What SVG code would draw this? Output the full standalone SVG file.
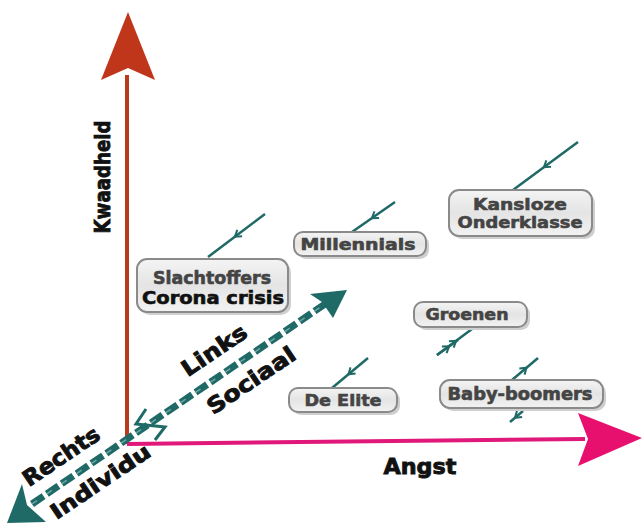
<svg xmlns="http://www.w3.org/2000/svg" width="643" height="526" viewBox="0 0 643 526">
<defs>
<linearGradient id="boxg" x1="0" y1="0" x2="0" y2="1">
<stop offset="0" stop-color="#f4f4f4"/>
<stop offset="0.5" stop-color="#e4e4e4"/>
<stop offset="1" stop-color="#f2f2f2"/>
</linearGradient>
<marker id="chev" viewBox="0 0 10 10" refX="5" refY="5" markerWidth="10" markerHeight="10" markerUnits="userSpaceOnUse" orient="auto">
<path d="M1,1 L7,5 L1,9" fill="none" stroke="#1f6a66" stroke-width="2"/>
</marker>
</defs>
<style>
.box{fill:url(#boxg);stroke:#8a8a8a;stroke-width:2}
.shadow{fill:#cfcfcf}
.lbl{font-family:"DejaVu Sans","Liberation Sans",sans-serif;font-weight:bold;font-size:16px;fill:#444;stroke:#444;stroke-width:0.6;text-anchor:middle}
.big{font-family:"DejaVu Sans","Liberation Sans",sans-serif;font-weight:bold;font-size:22px;fill:#111;stroke:#111;stroke-width:0.9;text-anchor:middle}
.conn{fill:none;stroke:#1f6a66;stroke-width:2.5;marker-mid:url(#chev)}
</style>
<rect width="643" height="526" fill="#fff"/>

<g id="axes">
<line x1="127" y1="444" x2="127" y2="75" stroke="#b83a1e" stroke-width="4"/>
<polygon points="128,12 155,80 128,68 101,80" fill="#c0361a"/>
<line x1="127" y1="444" x2="585" y2="439" stroke="#e0187a" stroke-width="4"/>
<polygon points="642,438 578,413 588,439 578,466" fill="#e8106f"/>
<line x1="32" y1="504" x2="328" y2="302" stroke="#1f6a66" stroke-width="7" stroke-dasharray="14 4"/>
<line x1="32" y1="504" x2="328" y2="302" stroke="#6fa6a3" stroke-width="1.5" stroke-dasharray="6 12"/>
<polygon points="347,290 310,294 322,302 333,318" fill="#1f6a66"/>
<polygon points="7,523 22,484 27,505 46,522" fill="#1f6a66"/>
<polyline points="146,409 136,424 165,427 155,440" fill="none" stroke="#1f6a66" stroke-width="3"/>
</g>

<g id="axis-labels">
<text class="big" transform="translate(102,177) rotate(-90)" y="8" textLength="113" lengthAdjust="spacingAndGlyphs">Kwaadheid</text>
<text class="big" x="420" y="474" textLength="73" lengthAdjust="spacingAndGlyphs">Angst</text>
<text class="big" transform="translate(214,350) rotate(-34)" y="8" textLength="74" lengthAdjust="spacingAndGlyphs">Links</text>
<text class="big" transform="translate(251,380) rotate(-34)" y="8" textLength="102" lengthAdjust="spacingAndGlyphs">Sociaal</text>
<text class="big" transform="translate(61,456) rotate(-34)" y="8" textLength="88" lengthAdjust="spacingAndGlyphs">Rechts</text>
<text class="big" transform="translate(100,481) rotate(-34)" y="8" style="font-size:21px" textLength="116" lengthAdjust="spacingAndGlyphs">Individu</text>
</g>

<g id="connectors">
<path class="conn" d="M265,214 L236.5,235.5 L208,257"/>
<path class="conn" d="M395,202 L373.5,217 L352,232"/>
<path class="conn" d="M578,142 L545.5,166 L513,190"/>
<path class="conn" d="M437,355 L454.5,342 L472,329"/>
<path class="conn" d="M512,380 L525,369 L538,358"/>
<path class="conn" d="M523,411 L516.5,416.5 L510,422"/>
<path class="conn" d="M368,358 L350,373 L332,388"/>
<path class="conn" d="M437,355 L447.5,347.5 L458,340"/>
</g>

<g id="slachtoffers">
<rect class="shadow" x="140" y="262" width="151" height="53" rx="10"/>
<rect class="box" x="137" y="259" width="151" height="53" rx="10"/>
<text class="lbl" x="212" y="284" style="font-size:17px" textLength="118" lengthAdjust="spacingAndGlyphs">Slachtoffers</text>
<text class="lbl" x="213" y="304" style="fill:#111;stroke:#111;font-size:17px" textLength="142" lengthAdjust="spacingAndGlyphs">Corona crisis</text>
</g>

<g id="millennials">
<rect class="shadow" x="297" y="235" width="132" height="24" rx="9"/>
<rect class="box" x="294" y="232" width="132" height="24" rx="9"/>
<text class="lbl" x="358" y="250" textLength="115" lengthAdjust="spacingAndGlyphs">Millennials</text>
</g>

<g id="kansloze">
<rect class="shadow" x="452" y="193" width="143" height="46" rx="10"/>
<rect class="box" x="449" y="190" width="143" height="46" rx="10"/>
<text class="lbl" x="520" y="210" textLength="94" lengthAdjust="spacingAndGlyphs">Kansloze</text>
<text class="lbl" x="520" y="228" textLength="125" lengthAdjust="spacingAndGlyphs">Onderklasse</text>
</g>

<g id="groenen">
<rect class="shadow" x="417" y="305" width="113" height="25" rx="9"/>
<rect class="box" x="414" y="302" width="113" height="25" rx="9"/>
<text class="lbl" x="467" y="320" textLength="83" lengthAdjust="spacingAndGlyphs">Groenen</text>
</g>

<g id="baby-boomers">
<rect class="shadow" x="443" y="383" width="163" height="28" rx="10"/>
<rect class="box" x="440" y="380" width="163" height="28" rx="10"/>
<text class="lbl" x="520" y="400" style="font-size:17px" textLength="145" lengthAdjust="spacingAndGlyphs">Baby-boomers</text>
</g>

<g id="de-elite">
<rect class="shadow" x="292" y="391" width="108" height="24" rx="9"/>
<rect class="box" x="289" y="388" width="108" height="24" rx="9"/>
<text class="lbl" x="343" y="406" textLength="77" lengthAdjust="spacingAndGlyphs">De Elite</text>
</g>
</svg>
